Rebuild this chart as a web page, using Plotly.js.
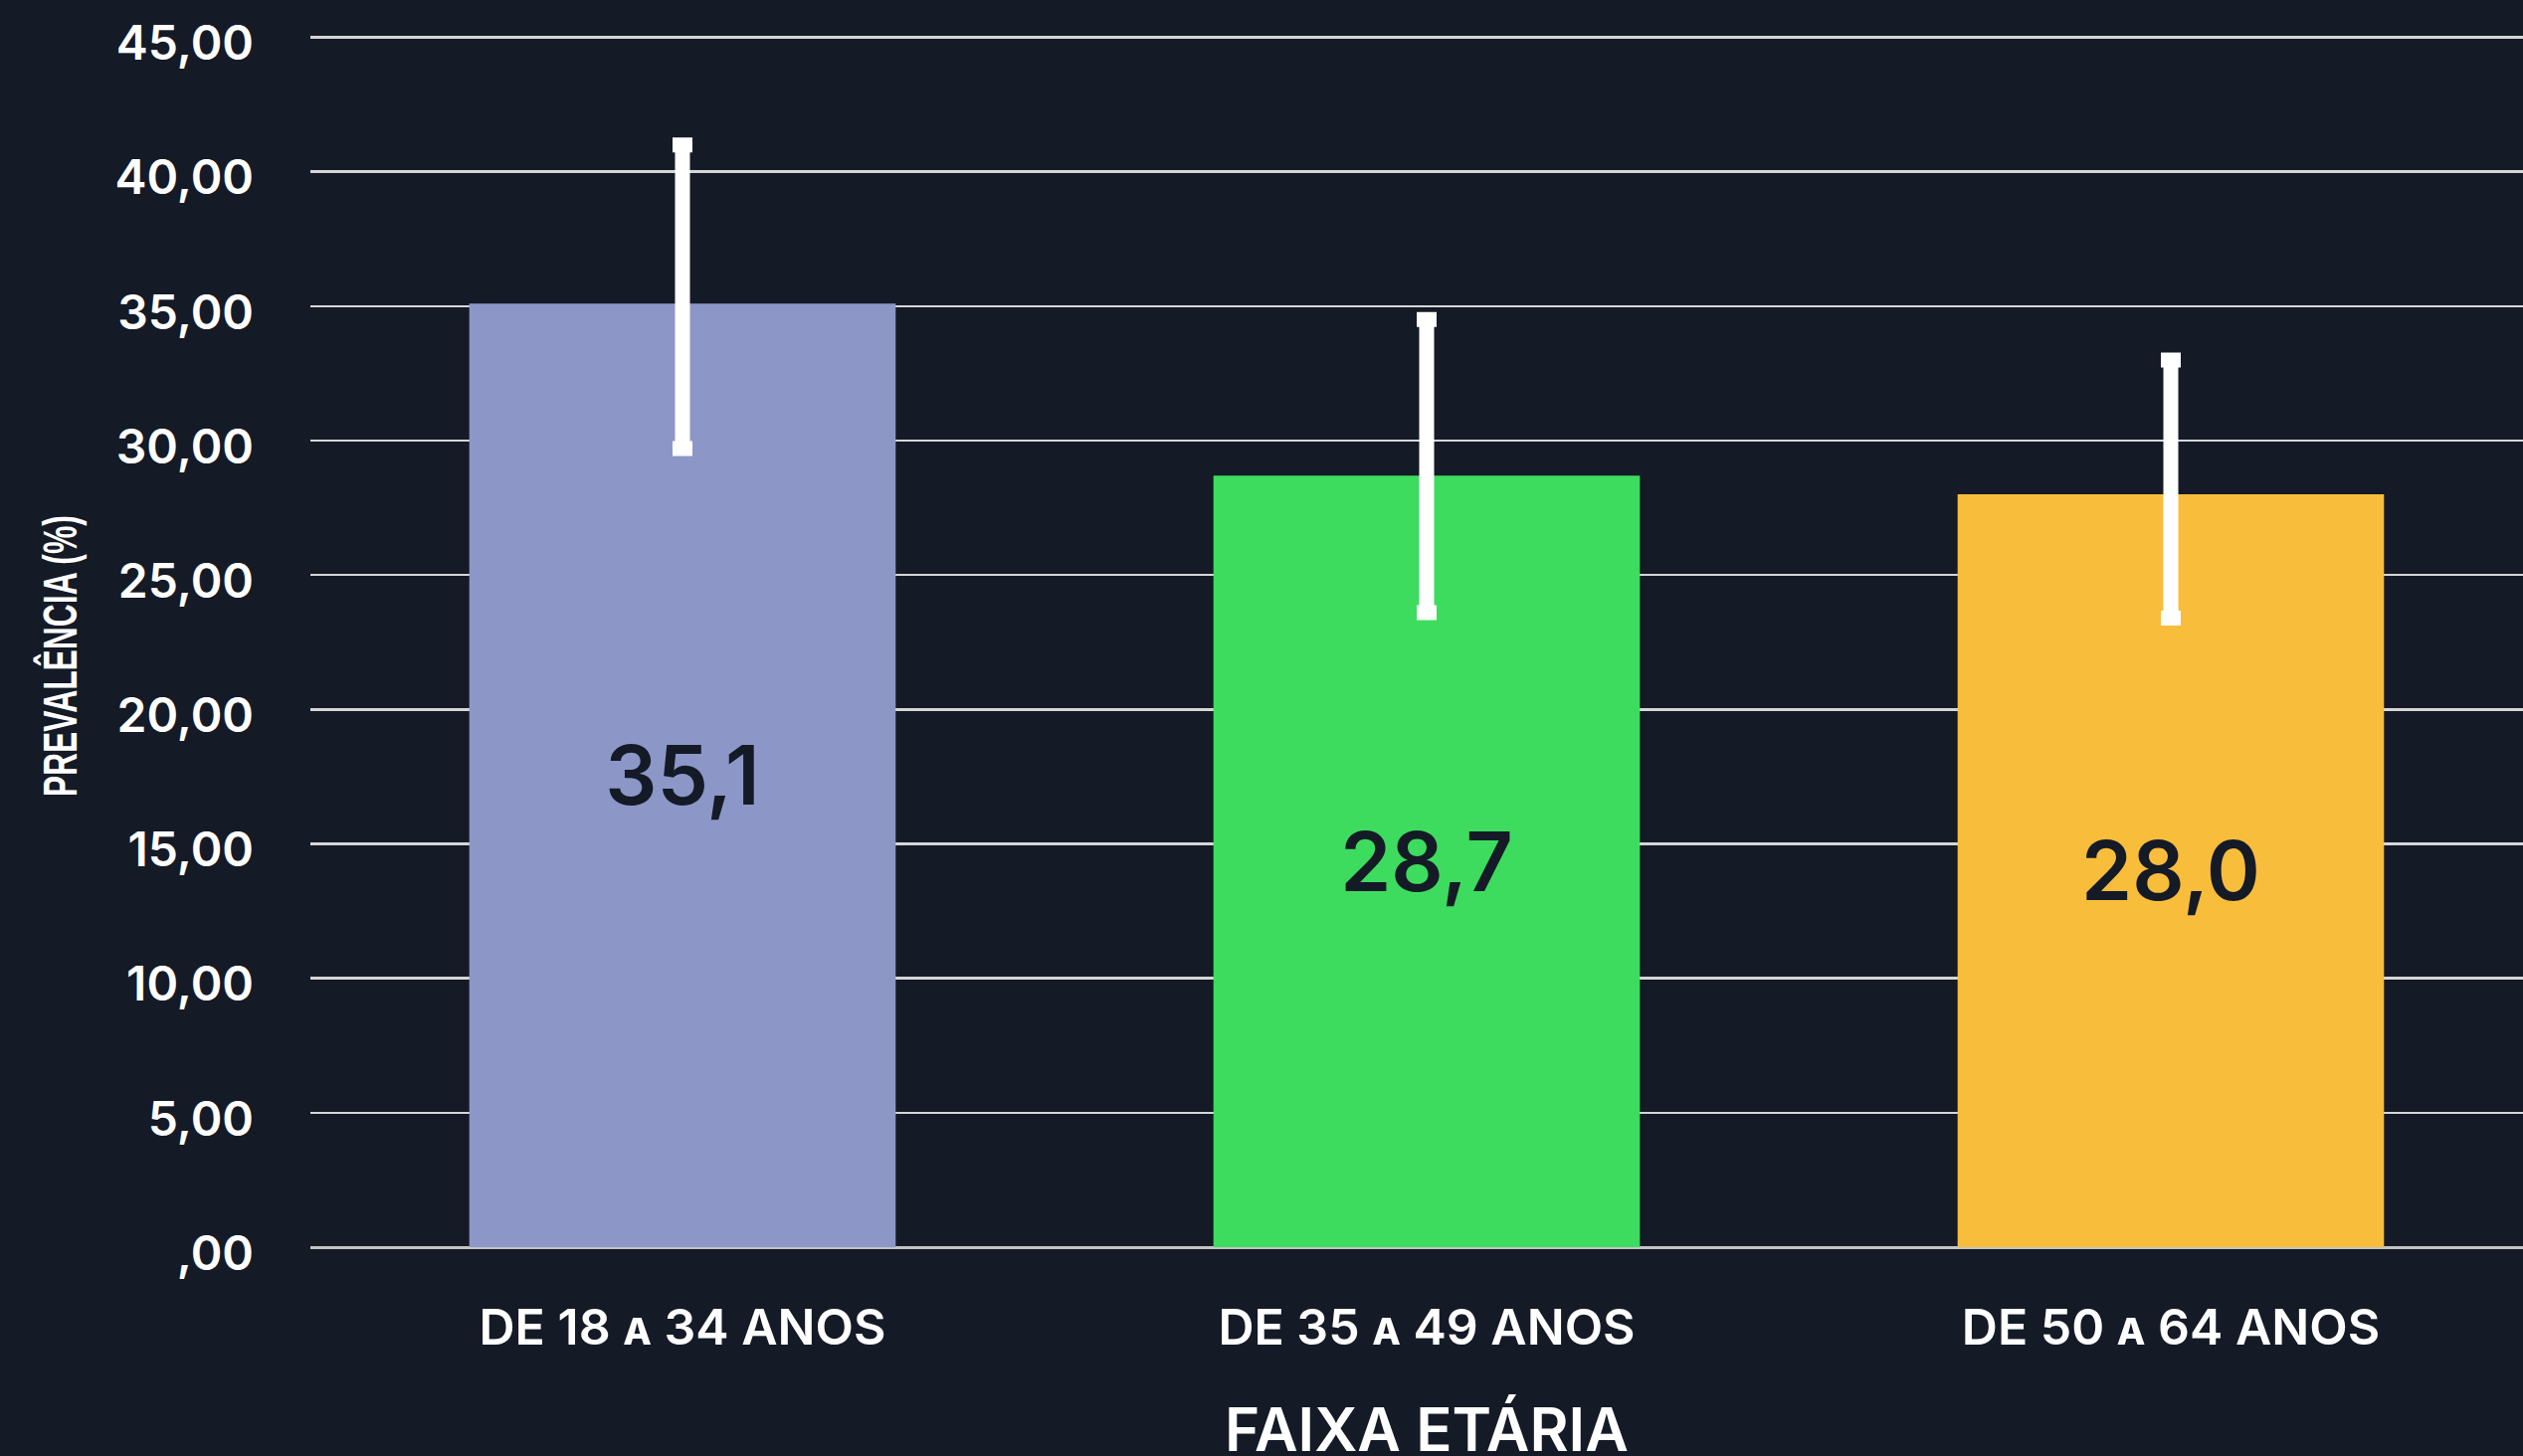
<!DOCTYPE html>
<html><head><meta charset="utf-8">
<script src="https://cdn.plot.ly/plotly-3.0.1.min.js"></script>
<style>html,body{margin:0;padding:0;background:#141a26;overflow:hidden}</style>
</head><body><div id="chart" style="width:2556px;height:1473px"></div>
<script>
const categories = ["DE 18 a 34 ANOS", "DE 35 a 49 ANOS", "DE 50 a 64 ANOS"];
const prevalence = [35.1, 28.7, 28.0];
const ciLower = [29.7, 23.6, 23.4];
const ciUpper = [41.0, 34.5, 33.0];
const barColors = ["#8c97c8", "#3ddc5f", "#f8bd3b"];
const yTickVals = [0, 5, 10, 15, 20, 25, 30, 35, 40, 45];
const yTickText = [",00", "5,00", "10,00", "15,00", "20,00", "25,00", "30,00", "35,00", "40,00", "45,00"];
const xTitle = "FAIXA ETÁRIA";
const yTitle = "PREVALÊNCIA (%)";

const bg = "#141a26";
const errPlus = prevalence.map((v, i) => ciUpper[i] - v);
const errMinus = prevalence.map((v, i) => v - ciLower[i]);

const trace = {
  type: "bar",
  x: categories,
  y: prevalence,
  marker: { color: barColors, line: { width: 0 } },
  texttemplate: "%{y:.1f}",
  textposition: "inside",
  insidetextanchor: "middle",
  textangle: 0,
  insidetextfont: { family: "Inter", size: 82, weight: 600, color: bg },
  error_y: {
    type: "data", symmetric: false,
    array: errPlus, arrayminus: errMinus,
    color: "#ffffff", thickness: 15, width: 10
  },
  hoverinfo: "skip",
  cliponaxis: false
};

const layout = {
  width: 2556, height: 1473,
  paper_bgcolor: bg, plot_bgcolor: bg,
  separators: ",.",
  font: { family: "Inter", color: "#ffffff" },
  margin: { l: 312, r: 0, t: 24, b: 219, autoexpand: false },
  bargap: 0.427,
  showlegend: false,
  xaxis: {
    type: "category",
    range: [-0.5, 2.5],
    autorange: false,
    showgrid: false, zeroline: false, showline: false,
    ticks: "",
    tickfont: { family: "Inter", size: 50, weight: 600, color: "#ffffff", variant: "small-caps" },
    ticklabelstandoff: 47,
    title: { text: xTitle, font: { family: "Inter", size: 60, weight: 600, color: "#ffffff" }, standoff: 88 },
    automargin: false, fixedrange: true
  },
  yaxis: {
    range: [0, 45.5],
    autorange: false,
    tickvals: yTickVals, ticktext: yTickText,
    showgrid: true, gridcolor: "#d6d6d6", gridwidth: 2.5,
    zeroline: true, zerolinecolor: "#c4c4c4", zerolinewidth: 3,
    showline: false, ticks: "",
    tickfont: { family: "Inter", size: 48, weight: 600, color: "#ffffff" },
    ticklabelstandoff: 56,
    ticklabelshift: 6,
    automargin: false, fixedrange: true
  },
  annotations: [{
    text: yTitle, textangle: -90, showarrow: false,
    xref: "paper", yref: "paper", x: 0, y: 0.4829,
    xanchor: "center", yanchor: "middle", xshift: -252,
    font: { family: "Liberation Sans", size: 48, weight: 700, color: "#ffffff" }
  }]
};

Plotly.newPlot("chart", [trace], layout, { staticPlot: true, displayModeBar: false }).then(() => {
  const t = document.querySelector(".annotation-text");
  if (t) { t.setAttribute("textLength", "283"); t.setAttribute("lengthAdjust", "spacingAndGlyphs"); }
});
</script>
</body></html>
